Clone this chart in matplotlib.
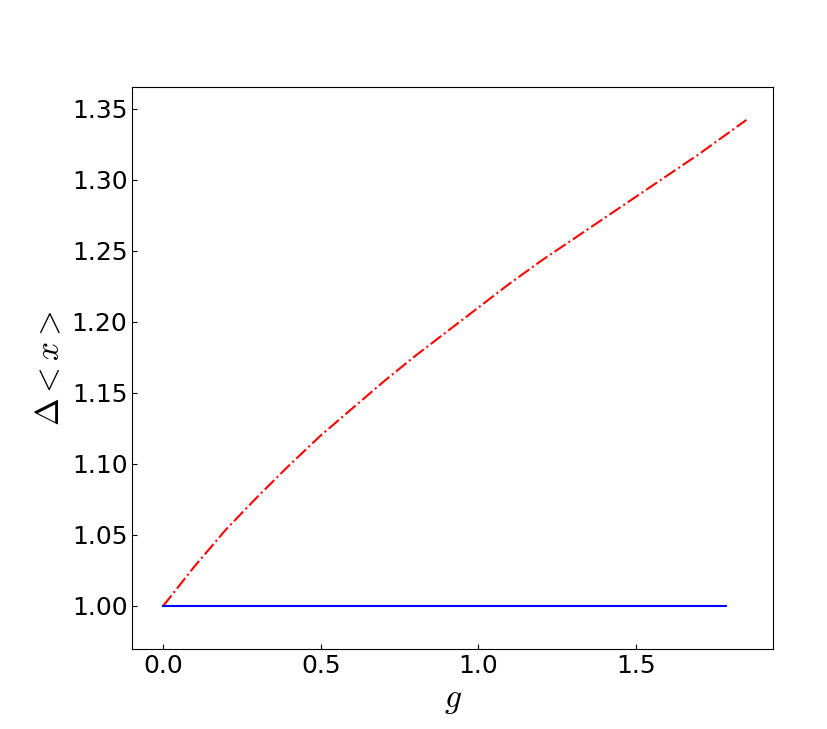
import matplotlib.pyplot as plt

plt.rcParams['mathtext.fontset'] = 'cm'

# Data
g_red = [0.0, 0.1, 0.2, 0.3, 0.4, 0.5, 0.6, 0.7, 0.8, 0.9, 1.0,
         1.1, 1.2, 1.3, 1.4, 1.5, 1.6, 1.7, 1.8, 1.85]
dx_red = [1.000, 1.028, 1.054, 1.077, 1.099, 1.120, 1.139, 1.158, 1.176, 1.193, 1.210,
          1.227, 1.243, 1.258, 1.273, 1.288, 1.303, 1.318, 1.334, 1.342]

g_blue = [0.0, 0.5, 1.0, 1.5, 1.786]
dx_blue = [1.0, 1.0, 1.0, 1.0, 1.0]

fig = plt.figure(figsize=(8.27, 7.29), dpi=100)
ax = fig.add_subplot(111)
fig.subplots_adjust(left=0.16, right=0.935, bottom=0.11, top=0.88)

ax.plot(g_red, dx_red, color='red', linestyle='-.', linewidth=1.5)
ax.plot(g_blue, dx_blue, color='blue', linestyle='-', linewidth=1.5)

ax.set_xlim(-0.098, 1.935)
ax.set_ylim(0.9698, 1.3648)
ax.set_xticks([0.0, 0.5, 1.0, 1.5])
ax.set_yticks([1.00, 1.05, 1.10, 1.15, 1.20, 1.25, 1.30, 1.35])

ax.tick_params(direction='in', labelsize=18)
ax.set_xlabel('$g$', fontsize=24)
ax.set_ylabel(r'$\Delta<x>$', fontsize=24)

fig.savefig('out.png', dpi=100)
